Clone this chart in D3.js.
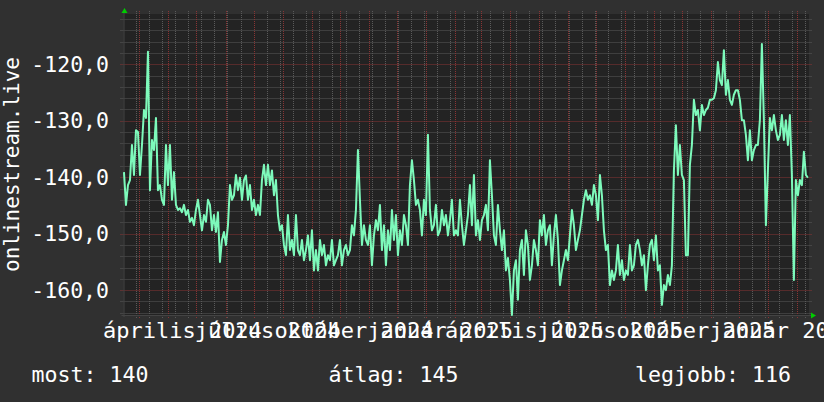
<!DOCTYPE html>
<html><head><meta charset="utf-8">
<script src="https://cdn.jsdelivr.net/npm/d3@7"></script>
<style>html,body{margin:0;padding:0;background:#303030;} svg{display:block;font-family:"DejaVu Sans Mono",monospace;}</style>
</head><body><svg id="c" width="824" height="402"></svg>
<script>
// ---- data ----
const values = [
-139.1,-144.9,-141.4,-140.5,-134.3,-139.6,-131.7,-132.0,-139.6,-134.3,-128.1,-129.5,-117.8,-142.3,-133.4,-135.2,-129.5,-142.3,-141.4,-144.0,
-144.9,-134.3,-141.4,-134.3,-144.0,-139.1,-144.9,-145.8,-145.5,-146.2,-144.9,-146.7,-145.8,-147.9,-147.2,-148.5,-145.8,-144.0,-146.7,-149.4,
-146.7,-147.9,-144.0,-144.9,-149.4,-146.7,-149.7,-146.2,-155.0,-151.1,-149.7,-152.0,-148.5,-141.4,-144.0,-143.2,-139.6,-142.3,-140.1,-144.0,
-140.5,-139.7,-144.0,-141.4,-145.8,-144.0,-146.7,-144.9,-146.7,-140.5,-137.8,-141.4,-137.8,-141.4,-138.8,-143.2,-140.5,-146.7,-149.4,-148.5,
-152.0,-153.8,-146.7,-152.9,-151.1,-153.8,-146.7,-152.9,-153.8,-151.1,-154.7,-152.9,-150.3,-154.7,-149.4,-156.5,-152.9,-156.5,-151.1,-153.8,
-152.0,-155.6,-153.8,-154.7,-151.1,-155.6,-154.7,-153.8,-151.1,-155.6,-152.9,-152.0,-153.8,-152.9,-148.5,-150.3,-145.8,-135.2,-144.0,-152.0,
-148.5,-151.1,-152.0,-148.5,-155.6,-150.3,-147.6,-149.4,-144.9,-152.9,-148.5,-155.6,-149.4,-152.9,-145.8,-151.1,-146.7,-153.8,-149.4,-152.0,
-146.7,-148.5,-152.0,-141.4,-137.0,-140.5,-144.9,-144.0,-145.8,-150.3,-144.0,-146.7,-132.5,-145.8,-149.4,-148.5,-144.9,-150.3,-149.4,-145.8,
-148.5,-146.7,-150.3,-147.6,-144.0,-150.3,-149.4,-150.3,-144.0,-148.5,-152.0,-149.4,-146.7,-141.4,-148.5,-139.6,-150.3,-147.6,-151.1,-147.6,
-146.7,-144.9,-149.4,-137.0,-143.2,-150.3,-152.0,-144.9,-149.4,-152.9,-149.4,-156.5,-154.3,-158.2,-164.4,-156.5,-154.7,-161.7,-152.9,-151.1,
-157.3,-149.4,-152.0,-158.2,-155.6,-151.1,-152.9,-155.6,-147.6,-150.3,-146.7,-152.0,-149.4,-148.5,-155.6,-150.3,-146.7,-151.1,-159.1,-156.5,
-154.7,-152.9,-154.7,-150.3,-145.8,-148.5,-152.9,-151.1,-149.4,-146.7,-144.0,-142.3,-144.0,-143.2,-144.9,-141.4,-143.2,-147.6,-139.6,-143.2,
-149.4,-152.9,-152.0,-159.1,-156.5,-158.2,-156.5,-152.0,-157.3,-154.7,-158.2,-156.5,-157.3,-152.0,-156.5,-155.6,-152.0,-151.1,-152.9,-155.6,
-153.8,-160.0,-155.6,-152.0,-151.1,-154.7,-150.3,-156.5,-155.6,-162.6,-159.1,-160.0,-157.3,-159.1,-155.6,-138.8,-130.8,-139.6,-134.3,-139.6,
-140.5,-153.8,-153.8,-137.8,-134.3,-126.3,-129.0,-128.1,-131.7,-127.2,-129.0,-128.1,-127.7,-126.3,-126.3,-126.0,-124.6,-119.6,-122.8,-123.7,
-117.5,-125.4,-122.8,-126.3,-127.2,-125.4,-124.6,-124.6,-126.3,-129.9,-129.9,-132.5,-137.0,-131.7,-137.0,-135.2,-134.3,-134.3,-129.9,-116.4,
-129.9,-148.5,-138.8,-129.5,-131.7,-129.0,-131.7,-133.4,-132.5,-129.0,-133.4,-129.9,-134.3,-129.0,-139.6,-158.2,-140.5,-143.2,-140.5,-141.4,
-135.5,-139.6,-140.1
];
const firstSample = Date.UTC(2024, 1, 13, 16);
const sampleHours = 51.2;
const yTickValues = [-160, -150, -140, -130, -120];
const xLabelDates = ["2024-04-01","2024-07-01","2024-10-01","2025-01-01","2025-04-01","2025-07-01","2025-10-01","2026-01-01"];
const monthNames = ["január","február","március","április","május","június","július","augusztus","szeptember","október","november","december"];
const axisTitle = "onlinestream.live";
const legendItems = ["most: 140", "átlag: 145", "legjobb: 116"];

// ---- layout ----
const L = 123.5, R = 809, T = 14, B = 315;
const svg = d3.select("#c");
svg.append("rect").attr("width", 824).attr("height", 402).attr("fill", "#303030");
svg.append("rect").attr("x", L).attr("y", T).attr("width", R - L).attr("height", B - T).attr("fill", "#232323");

const x = d3.scaleUtc().domain([new Date(Date.UTC(2024,1,13,4)), new Date(Date.UTC(2026,1,13,11))]).range([L, R]);
const y = d3.scaleLinear().domain([-164.4, -111.1]).range([B, T]);

const px = v => Math.round(v) + 0.5;
const g = svg.append("g");
d3.range(-164, -110, 2).filter(v => v % 10 !== 0).forEach(v => {
  g.append("line").attr("x1", L - 3).attr("x2", R + 3).attr("y1", px(y(v))).attr("y2", px(y(v)))
   .attr("stroke", "#5a5a5a").attr("stroke-dasharray", "1,1");
});
const mondays = d3.utcMonday.range(x.domain()[0], x.domain()[1]);
const ref = Date.UTC(2024,1,26);
mondays.filter(d => Math.round((d - ref) / 864e5 / 7) % 2 === 0).forEach(d => {
  g.append("line").attr("x1", px(x(d))).attr("x2", px(x(d))).attr("y1", T - 3).attr("y2", B + 3)
   .attr("stroke", "#5a5a5a").attr("stroke-dasharray", "1,1");
});
yTickValues.forEach(v => {
  g.append("line").attr("x1", L - 3).attr("x2", R + 3).attr("y1", px(y(v))).attr("y2", px(y(v)))
   .attr("stroke", "#8a3434").attr("stroke-dasharray", "1,1");
});
d3.utcMonth.range(x.domain()[0], x.domain()[1]).forEach(d => {
  g.append("line").attr("x1", px(x(d))).attr("x2", px(x(d))).attr("y1", T - 3).attr("y2", B + 3)
   .attr("stroke", "#8a3434").attr("stroke-dasharray", "1,1");
});

svg.append("line").attr("x1", L - 2).attr("x2", R + 2).attr("y1", B + 0.5).attr("y2", B + 0.5).attr("stroke", "#444");
svg.append("line").attr("x1", L + 0.5).attr("x2", L + 0.5).attr("y1", B + 2).attr("y2", T - 3).attr("stroke", "#444");
svg.append("path").attr("d", `M${L-2},${T-1}L${L+4},${T-1}L${L+1},${T-6}Z`).attr("fill", "#00cc00");
svg.append("path").attr("d", `M${R+2},${B-2.5}L${R+2},${B+3.5}L${R+7},${B+0.5}Z`).attr("fill", "#00cc00");

const data = values.map((v, i) => ({t: new Date(firstSample + i * sampleHours * 3600e3), v}));
svg.append("path").datum(data)
  .attr("d", d3.line().x(d => x(d.t)).y(d => y(d.v)))
  .attr("fill", "none").attr("stroke", "#7dfabb").attr("stroke-width", 2).attr("stroke-linejoin", "round");

const fmt = v => v.toFixed(1).replace(".", ",");
yTickValues.forEach(v => {
  svg.append("text").attr("x", 109).attr("y", y(v) + 7.5).attr("text-anchor", "end")
    .attr("font-size", 21.5).attr("fill", "#ffffff").text(fmt(v));
});
xLabelDates.forEach(s => {
  const d = new Date(s + "T00:00:00Z");
  const mid = new Date(d.getTime() + 15 * 864e5);
  svg.append("text").attr("x", x(mid)).attr("y", 338).attr("text-anchor", "middle")
    .attr("font-size", 22).attr("fill", "#ffffff")
    .text(monthNames[d.getUTCMonth()] + " " + d.getUTCFullYear());
});
svg.append("text").attr("transform", `translate(18.5,${(T + B) / 2}) rotate(-90)`).attr("text-anchor", "middle")
  .attr("font-size", 21).attr("fill", "#ffffff").text(axisTitle);
const legX = [31.5, 328.5, 635];
legendItems.forEach((s, i) => {
  svg.append("text").attr("x", legX[i]).attr("y", 381.5).attr("font-size", 21.6).attr("fill", "#ffffff").text(s);
});
</script></body></html>
